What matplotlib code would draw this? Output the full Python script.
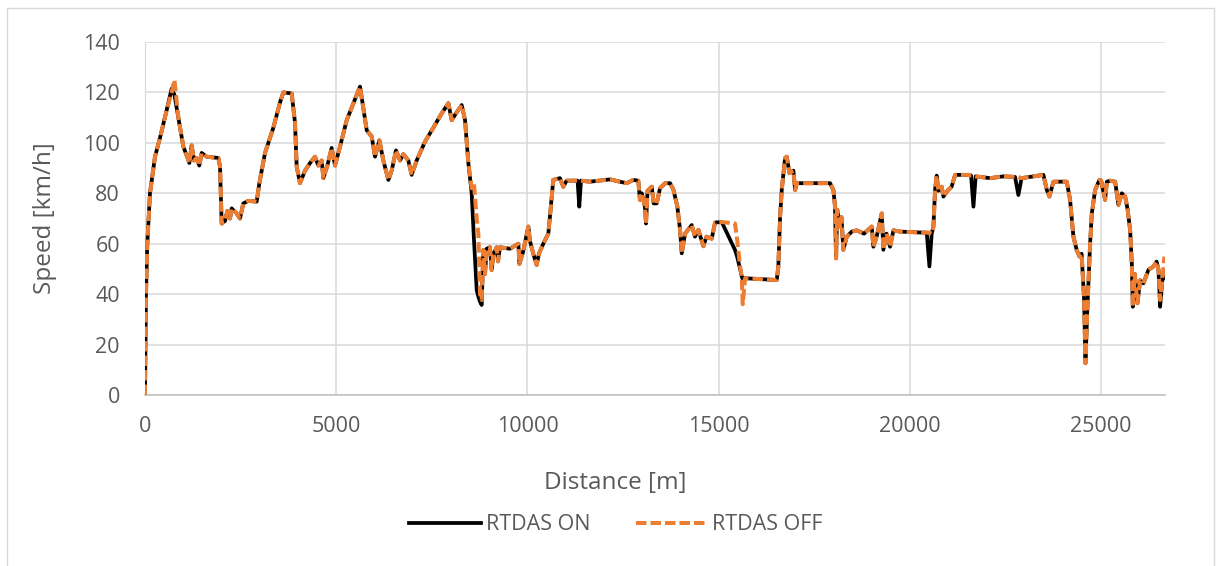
import numpy as np
import matplotlib
matplotlib.use("Agg")
import matplotlib.pyplot as plt
from matplotlib.patches import Rectangle

plt.rcParams['font.family'] = ['Open Sans', 'DejaVu Sans']

# distance along the route [m]
distance = [
    0, 26, 60, 130, 261, 392, 567, 697, 770, 872,
    1002, 1090, 1160, 1220, 1281, 1350, 1420, 1482, 1613, 1918,
    1961, 2005, 2092, 2153, 2223, 2266, 2397, 2484, 2571, 2702,
    2920, 2990, 3138, 3356, 3530, 3617, 3835, 3922, 3966, 4053,
    4184, 4315, 4445, 4532, 4620, 4663, 4768, 4881, 4968, 5099,
    5274, 5448, 5622, 5797, 5928, 6015, 6128, 6232, 6363, 6450,
    6563, 6668, 6754, 6885, 6972, 7103, 7322, 7539, 7758, 7932,
    8019, 8132, 8281, 8368, 8455, 8542, 8600, 8673, 8716, 8760,
    8803, 8847, 8890, 8934, 9020, 9064, 9110, 9195, 9230, 9280,
    9543, 9762, 9790, 9890, 10023, 10066, 10153, 10240, 10300, 10414,
    10545, 10588, 10675, 10850, 10937, 11024, 11198, 11310, 11355, 11400,
    11634, 12157, 12593, 12767, 12898, 12941, 12990, 13071, 13100, 13140,
    13250, 13300, 13380, 13467, 13598, 13729, 13815, 13920, 13990, 14034,
    14121, 14295, 14380, 14470, 14600, 14680, 14818, 14906, 15080, 15428,
    15480, 15560, 15603, 15629, 15690, 16518, 16560, 16606, 16649, 16736,
    16780, 16850, 16954, 16998, 17040, 17913, 18000, 18040, 18070, 18100,
    18174, 18210, 18260, 18349, 18480, 18610, 18800, 19001, 19045, 19130,
    19263, 19306, 19390, 19481, 19570, 19743, 20353, 20440, 20510, 20570,
    20615, 20658, 20700, 20745, 20830, 20876, 21000, 21090, 21182, 21530,
    21600, 21661, 21720, 22100, 22442, 22749, 22836, 22920, 23491, 23580,
    23648, 23752, 24101, 24188, 24275, 24360, 24433, 24490, 24555, 24590,
    24642, 24712, 24756, 24843, 24956, 25000, 25104, 25150, 25235, 25366,
    25453, 25540, 25628, 25688, 25758, 25802, 25828, 25880, 25950, 26020,
    26106, 26237, 26367, 26450, 26500, 26542, 26600, 26656,
]

# speed with RTDAS switched on [km/h]
speed_on = [
    0, 40, 60, 80, 94.5, 102, 113, 121.5, 119, 110,
    98.5, 95, 92, 99, 93, 94, 91, 96, 94.5, 94,
    90.6, 68, 69, 73, 70, 74, 72, 70, 76, 77,
    76.7, 84, 96, 106, 116, 120, 119.6, 108, 90.6, 84,
    89, 92, 94.5, 91, 93, 86, 91, 98, 91, 98.5,
    109, 115.7, 122.3, 105, 102.5, 94.5, 101, 93, 85.3, 89,
    97, 93, 95.5, 93, 87.3, 93, 100.5, 106, 111.7, 115.7,
    109, 111.7, 115, 109, 92, 80, 62, 41.6, 39, 37,
    35.7, 57.5, 48, 58, 58.6, 49.6, 56, 58.6, 53, 58.6,
    58, 60, 52, 57, 66.8, 61, 56, 51.6, 56, 60,
    64, 70.7, 85.3, 86, 82.6, 85, 85, 85, 74.7, 85,
    84.6, 85.5, 84, 85.3, 85, 77.4, 80, 74.7, 68, 81,
    82.6, 76, 76, 82, 84, 84, 81.5, 74.7, 65.5, 56.2,
    64, 67.4, 62.8, 65.5, 59, 62.8, 62, 68.4, 68.6, 57.5,
    55, 50, 47, 46, 46.3, 45.6, 51, 70.7, 81.3, 94,
    94.5, 88, 89, 81.3, 84, 84, 81.3, 75, 54.2, 73.5,
    66.8, 70.5, 57.6, 62.8, 64.8, 65.3, 64, 66.8, 58.8, 62.8,
    72, 57.6, 64, 58.8, 65.3, 64.8, 64.4, 64.4, 51, 64,
    66.8, 81.3, 87, 81, 82.6, 78.7, 81.3, 82.6, 87.3, 87.3,
    87, 74.7, 86.7, 86, 86.7, 86.5, 79.3, 86, 87.3, 81.3,
    78.7, 84.6, 84.6, 77.4, 62.8, 57.6, 54.9, 56, 37.7, 12.6,
    35, 60, 72, 81.3, 85.3, 85, 77.4, 84.6, 85, 84.6,
    75.4, 80, 78.7, 74, 65.5, 52.2, 35, 48, 36.4, 45.5,
    44.3, 49.6, 51, 52.9, 49.6, 35, 45.5, 47,
]

# speed with RTDAS switched off [km/h]
speed_off = [
    0, 40, 60, 80, 94.5, 102, 113, 120, 125, 110,
    98.5, 95, 92, 99, 93, 94, 91, 96, 94.5, 94,
    90.6, 68, 69, 73, 70, 74, 72, 70, 76, 77,
    76.7, 84, 96, 106, 116, 120, 119.6, 108, 90.6, 84,
    89, 92, 94.5, 91, 93, 86, 91, 98, 91, 98.5,
    109, 115.7, 122.3, 105, 102.5, 94.5, 101, 93, 85.3, 89,
    97, 93, 95.5, 93, 87.3, 93, 100.5, 106, 111.7, 115.7,
    109, 111.7, 115, 109, 92, 82, 84, 70, 64, 40,
    37.7, 57.5, 48, 58, 58.6, 49.6, 56, 58.6, 53, 58.6,
    58, 60, 52, 57, 66.8, 61, 56, 51.6, 56, 60,
    64, 70.7, 85.3, 86, 82.6, 85, 85, 85, 85, 85,
    84.6, 85.5, 84, 85.3, 85, 77.4, 80, 74.7, 68, 81,
    82.6, 76, 76, 82, 84, 84, 81.5, 74.7, 65.5, 56.2,
    64, 67.4, 62.8, 65.5, 59, 62.8, 62, 68.4, 68.6, 68,
    62, 51, 47, 36, 46.3, 45.6, 51, 70.7, 81.3, 94,
    94.5, 88, 89, 81.3, 84, 84, 81.3, 75, 54.2, 73.5,
    66.8, 70.5, 57.6, 62.8, 64.8, 65.3, 64, 66.8, 58.8, 62.8,
    72, 57.6, 64, 58.8, 65.3, 64.8, 64.4, 64.4, 64.4, 64,
    66.8, 81.3, 87, 81, 82.6, 78.7, 81.3, 82.6, 87.3, 87.3,
    87, 87, 86.7, 86, 86.7, 86.5, 86.5, 86, 87.3, 81.3,
    78.7, 84.6, 84.6, 77.4, 62.8, 57.6, 54.9, 56, 37.7, 12.6,
    35, 60, 72, 81.3, 85.3, 85, 77.4, 84.6, 85, 84.6,
    75.4, 80, 78.7, 74, 65.5, 52.2, 35, 48, 36.4, 45.5,
    44.3, 49.6, 51, 52.9, 49.6, 37.7, 45.5, 54.9,
]

x_ticks = [0, 5000, 10000, 15000, 20000, 25000]
y_ticks = [0, 20, 40, 60, 80, 100, 120, 140]

text_grey = '#595959'
grid_grey = '#D9D9D9'

fig = plt.figure(figsize=(12.16, 5.66), dpi=100)
ax = fig.add_axes([145 / 1216, 1 - 395 / 566, 1020 / 1216, 353 / 566])

ax.plot(distance, speed_on, color='black', lw=2.7, label='RTDAS ON', zorder=3)
ax.plot(distance, speed_off, color='#ED7D31', lw=2.9, linestyle=(0, (2.6, 1.0)),
        label='RTDAS OFF', zorder=4)

ax.set_xlim(0, 26670)
ax.set_ylim(0, 140)
ax.set_xticks(x_ticks)
ax.set_yticks(y_ticks)
ax.grid(True, color=grid_grey, lw=1.1, zorder=0)
ax.set_axisbelow(True)
for side in ['top', 'right']:
    ax.spines[side].set_visible(False)
ax.spines['left'].set_color(grid_grey)
ax.spines['bottom'].set_color('#BFBFBF')
ax.spines['bottom'].set_linewidth(1.1)
ax.tick_params(length=0, labelsize=15.5, labelcolor=text_grey)
ax.tick_params(axis='y', pad=18)
ax.tick_params(axis='x', pad=15)

ax.set_xlabel('Distance [m]', fontsize=17.5, color=text_grey)
ax.set_ylabel('Speed [km/h]', fontsize=17.5, color=text_grey)
ax.xaxis.set_label_coords(0.4615, -0.249)
ax.yaxis.set_label_coords(-0.098, 0.5)
ax.xaxis.label.set_va('center')
ax.yaxis.label.set_va('center')

fig.legend(loc='center', bbox_to_anchor=(616 / 1216, 1 - 525 / 566), ncol=2,
           frameon=False, fontsize=15.5, labelcolor=text_grey,
           handlelength=3.3, handletextpad=0.25, columnspacing=2.1)

# light frame around the whole chart area
fig.add_artist(Rectangle((7 / 1216, -0.05), 1207 / 1216, 1.05 - 8 / 566,
                         transform=fig.transFigure, fill=False,
                         edgecolor=grid_grey, lw=1.0))

fig.savefig('out.png', dpi=100, facecolor='white')
